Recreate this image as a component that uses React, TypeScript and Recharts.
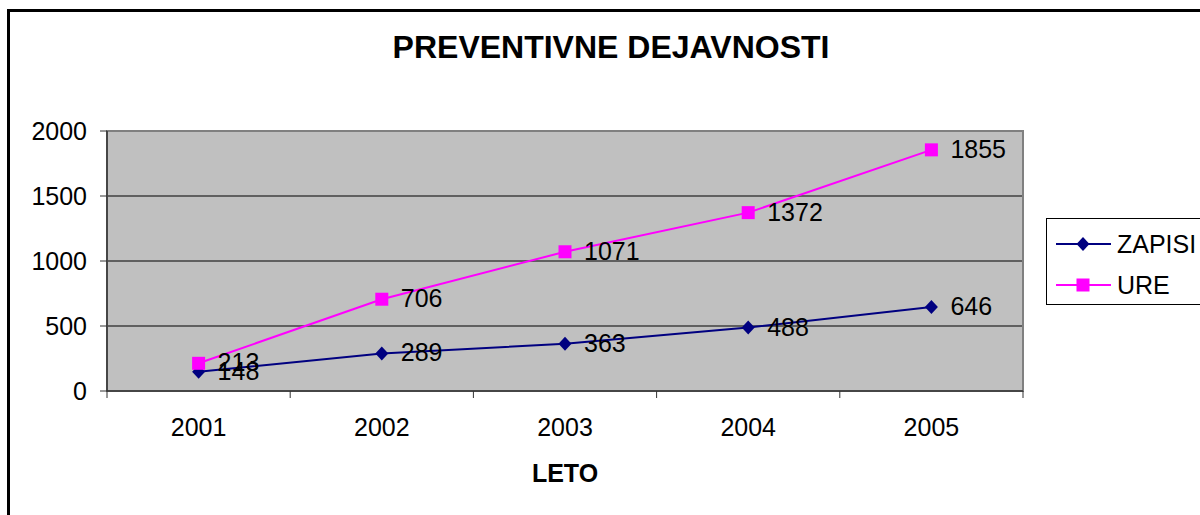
import React from 'react';
import { LineChart, Line, XAxis, YAxis, CartesianGrid, ReferenceArea, LabelList } from 'recharts';

const years = ['2001', '2002', '2003', '2004', '2005'];
const zapisi = [148, 289, 363, 488, 646];
const ure = [213, 706, 1071, 1372, 1855];
const yTicks = [0, 500, 1000, 1500, 2000];

const FONT = '"Liberation Sans", Arial, sans-serif';
const NAVY = '#000080';
const MAGENTA = '#FF00FF';

// x = index + 0.5 so that each year sits in the middle of its slot
const data = years.map((y, i) => ({ x: i + 0.5, year: y, zapisi: zapisi[i], ure: ure[i] }));
const xTicks: number[] = [];
for (let i = 0; i <= years.length; i++) {
  xTicks.push(i);
  if (i < years.length) xTicks.push(i + 0.5);
}

const XTick = (props: any) => {
  const { x, y, payload } = props;
  const v = payload.value;
  if (Number.isInteger(v)) {
    return <line x1={x} y1={y} x2={x} y2={y + 7} stroke="#333" strokeWidth={1} />;
  }
  return (
    <text x={x} y={y + 45} textAnchor="middle" fontSize={25} fontFamily={FONT} fill="#000">
      {years[Math.floor(v)]}
    </text>
  );
};

const Diamond = (props: any) => {
  const { cx, cy } = props;
  if (cx == null || cy == null) return null;
  return <polygon points={`${cx},${cy - 7} ${cx + 6.5},${cy} ${cx},${cy + 7} ${cx - 6.5},${cy}`} fill={NAVY} />;
};

const Square = (props: any) => {
  const { cx, cy } = props;
  if (cx == null || cy == null) return null;
  return <rect x={cx - 6.5} y={cy - 6.5} width={13} height={13} fill={MAGENTA} />;
};

const ValueLabel = (props: any) => {
  const { x, y, value } = props;
  return (
    <text x={x + 19} y={y + 8} textAnchor="start" fontSize={25} fontFamily={FONT} fill="#000">
      {value}
    </text>
  );
};

export default function App() {
  return (
    <div style={{ position: 'absolute', left: 0, top: 0, width: 1200, height: 515, overflow: 'hidden', background: '#fff', fontFamily: FONT }}>
      <div style={{ position: 'absolute', left: 7, top: 9, width: 1300, height: 700, border: '3px solid #000' }} />

      <div style={{ position: 'absolute', left: 0, top: 29, width: 1222, textAlign: 'center', fontSize: 32, fontWeight: 'bold', lineHeight: '36px', color: '#000' }}>
        PREVENTIVNE DEJAVNOSTI
      </div>

      <LineChart width={1200} height={515} data={data} margin={{ top: 131, right: 177, bottom: 64, left: 47 }} style={{ position: 'absolute', left: 0, top: 0 }}>
        <CartesianGrid vertical={false} stroke="#000" fill="#C0C0C0" fillOpacity={1} />
        <ReferenceArea x1={0} x2={5} y1={0} y2={2000} fill="none" stroke="#808080" strokeWidth={2} ifOverflow="visible" />
        <XAxis
          dataKey="x"
          type="number"
          domain={[0, 5]}
          ticks={xTicks}
          interval={0}
          height={60}
          tickSize={0}
          tickMargin={0}
          tickLine={false}
          axisLine={{ stroke: '#333', strokeWidth: 1.5 }}
          tick={<XTick />}
        />
        <YAxis
          domain={[0, 2000]}
          ticks={yTicks}
          interval={0}
          width={60}
          tickSize={7}
          tickMargin={13}
          axisLine={{ stroke: '#333', strokeWidth: 1.5 }}
          tickLine={{ stroke: '#333' }}
          tick={{ fill: '#000', fontSize: 25, fontFamily: FONT }}
        />
        <Line dataKey="zapisi" stroke={NAVY} strokeWidth={2} dot={<Diamond />} isAnimationActive={false}>
          <LabelList dataKey="zapisi" content={<ValueLabel />} />
        </Line>
        <Line dataKey="ure" stroke={MAGENTA} strokeWidth={2} dot={<Square />} isAnimationActive={false}>
          <LabelList dataKey="ure" content={<ValueLabel />} />
        </Line>
      </LineChart>

      <div style={{ position: 'absolute', left: 0, top: 458, width: 1130, textAlign: 'center', fontSize: 25, fontWeight: 'bold', lineHeight: '30px', color: '#000' }}>
        LETO
      </div>

      <div style={{ position: 'absolute', left: 1046, top: 218, width: 200, height: 85, border: '1px solid #000', background: '#fff' }}>
        <svg width={200} height={85} style={{ position: 'absolute', left: 0, top: 0 }}>
          <line x1={9} y1={25} x2={64} y2={25} stroke={NAVY} strokeWidth={2} />
          <polygon points="36,18 42.5,25 36,32 29.5,25" fill={NAVY} />
          <text x={70} y={34} fontSize={25} fontFamily={FONT} fill="#000">ZAPISI</text>
          <line x1={9} y1={66} x2={64} y2={66} stroke={MAGENTA} strokeWidth={2} />
          <rect x={29.5} y={59.5} width={13} height={13} fill={MAGENTA} />
          <text x={70} y={75} fontSize={25} fontFamily={FONT} fill="#000">URE</text>
        </svg>
      </div>
    </div>
  );
}
